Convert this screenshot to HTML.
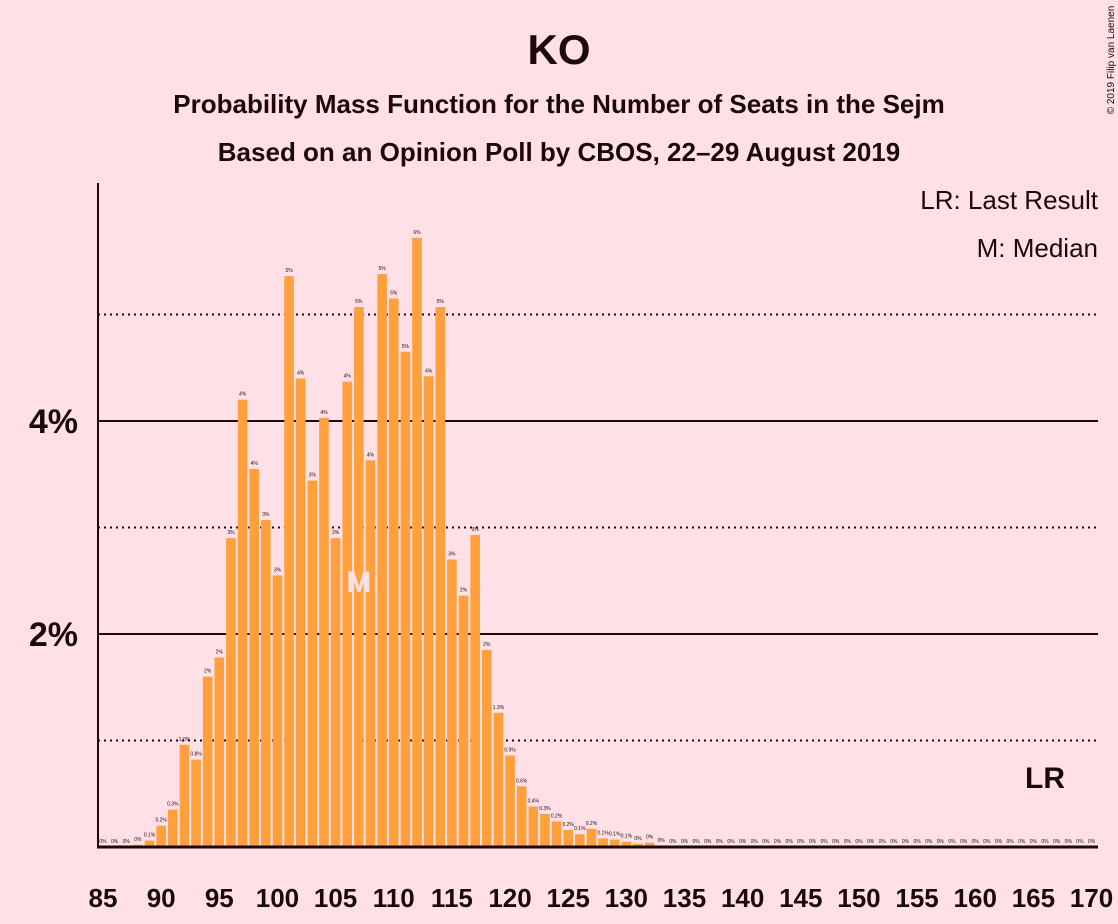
<!DOCTYPE html>
<html><head><meta charset="utf-8"><style>
body{margin:0;background:#ffe0e6;}
svg{display:block;font-family:"Liberation Sans",sans-serif;}
</style></head><body>
<svg id="chart" width="1118" height="924" viewBox="0 0 1118 924">
<rect x="0" y="0" width="1118" height="924" fill="#ffe0e6"/>
<text x="559" y="64" text-anchor="middle" font-size="42" font-weight="bold" fill="#1a0a0a">KO</text>
<text x="559" y="113" text-anchor="middle" font-size="26" font-weight="bold" fill="#1a0a0a">Probability Mass Function for the Number of Seats in the Sejm</text>
<text x="559" y="161" text-anchor="middle" font-size="26" font-weight="bold" fill="#1a0a0a">Based on an Opinion Poll by CBOS, 22–29 August 2019</text>
<text x="1098" y="209" text-anchor="end" font-size="26" fill="#1a0a0a">LR: Last Result</text>
<text x="1098" y="257" text-anchor="end" font-size="26" fill="#1a0a0a">M: Median</text>
<text transform="translate(1114,60) rotate(-90)" text-anchor="middle" font-size="10" fill="#1a0a0a">© 2019 Filip van Laenen</text>
<g id="grid"></g>
<g id="bars"></g>
<g id="axes"></g>
</svg>
<script>
const seats = [];
for (let s = 85; s <= 170; s++) seats.push(s);
const probs = [0,0,0,0.02,0.06,0.2,0.35,0.96,0.82,1.6,1.78,2.9,4.2,3.55,3.07,2.55,5.36,4.4,3.44,4.03,2.9,4.37,5.07,3.63,5.38,5.15,4.65,5.72,4.42,5.07,2.7,2.36,2.93,1.85,1.26,0.86,0.57,0.38,0.31,0.24,0.16,0.12,0.17,0.08,0.07,0.05,0.03,0.04,0.01,0,0,0,0,0,0,0,0,0,0,0,0,0,0,0,0,0,0,0,0,0,0,0,0,0,0,0,0,0,0,0,0,0,0,0,0,0];
const yTicks = [2,4];
const yMinor = [1,3,5];
const xTickLabels = [85,90,95,100,105,110,115,120,125,130,135,140,145,150,155,160,165,170];
const medianSeat = 107;
const lastResultSeat = 166;

const NS = "http://www.w3.org/2000/svg";
const x = s => 103 + (s - 85) * 11.63;
const y = v => 847 - v * 106.5;
function mk(tag, attrs, parent){const e=document.createElementNS(NS,tag);for(const k in attrs)e.setAttribute(k,attrs[k]);parent.appendChild(e);return e;}
const grid=document.getElementById('grid'),bars=document.getElementById('bars'),axes=document.getElementById('axes');

yMinor.forEach(v=>{
  const l=mk('line',{x1:98,x2:1098,y1:y(v),y2:y(v),stroke:'#1a0a0a','stroke-width':2,'stroke-dasharray':'2,4'},grid);
  
  
});
yTicks.forEach(v=>{
  const l=mk('line',{x1:98,x2:1098,y1:y(v),y2:y(v),stroke:'#1a0a0a','stroke-width':2},grid);
  
  
  const t=mk('text',{x:78,y:y(v)+12,'text-anchor':'end','font-size':34,'font-weight':'bold',fill:'#1a0a0a'},axes);
  t.textContent=v+'%';
  
  
});
function fmt(v){ if(v<0.05) return '0%'; if(v<1.5) return v.toFixed(1)+'%'; return Math.round(v)+'%'; }
seats.forEach((s,i)=>{
  const v=probs[i];
  const r=mk('rect',{x:x(s)-4.8,y:y(v),width:9.6,height:847-y(v),fill:'#ffa03c'},bars);
  
  
  const t=mk('text',{x:x(s),y:y(v)-4,'text-anchor':'middle','font-size':5,fill:'#1a0a0a'},bars);
  t.textContent=fmt(v);
  
  
});
const m=mk('text',{x:x(medianSeat),y:592,'text-anchor':'middle','font-size':30,'font-weight':'bold',fill:'#ffe0e6'},bars);
m.textContent='M';


const lr=mk('text',{x:x(lastResultSeat),y:788,'text-anchor':'middle','font-size':30,'font-weight':'bold',fill:'#1a0a0a'},bars);
lr.textContent='LR';


const ya=mk('line',{x1:98,x2:98,y1:183,y2:848,stroke:'#1a0a0a','stroke-width':2},axes);


const xa=mk('line',{x1:97,x2:1098,y1:847,y2:847,stroke:'#1a0a0a','stroke-width':3},axes);


xTickLabels.forEach(s=>{
  const t=mk('text',{x:x(s),y:907,'text-anchor':'middle','font-size':26,'font-weight':'bold',fill:'#1a0a0a'},axes);
  t.textContent=s;
  
  
});
</script>
</body></html>
